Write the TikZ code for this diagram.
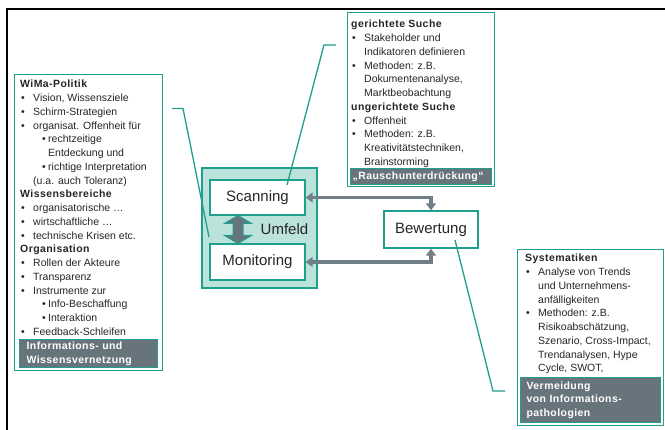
\documentclass[tikz,border=0pt]{standalone}
\usepackage{fontspec}
\setmainfont{Liberation Sans}[BoldFeatures={LetterSpace=4}]
\usetikzlibrary{positioning,arrows.meta}

\definecolor{wmTeal}{RGB}{30,160,140}
\definecolor{wmLight}{RGB}{188,226,220}
\definecolor{wmGray}{RGB}{104,116,124}
\definecolor{wmArrow}{RGB}{112,126,136}
\definecolor{wmText}{RGB}{38,38,38}

\newcommand{\bodyfont}{\fontsize{10.5}{13.75}\selectfont}
\newcommand{\blt}{•}
\newcommand{\itm}[1]{\hspace*{1pt}\makebox[12pt][l]{\blt}#1}
\newcommand{\subitm}[1]{\hspace*{22pt}\makebox[6pt][l]{\blt}#1}
\newcommand{\cnt}{\hspace*{13pt}}

\begin{document}
\begin{tikzpicture}[x=1pt, y=-1pt,
  tealbox/.style={draw=wmTeal, line width=1.4pt, fill=white, inner sep=0pt, anchor=north west},
  footbox/.style={draw=wmTeal, line width=1.3pt, fill=wmGray, text=white, anchor=north west, align=left, inner ysep=0pt, font=\bodyfont\bfseries},
  bodytext/.style={anchor=north west, inner sep=0pt, align=left, text=wmText, font=\bodyfont},
  procbox/.style={draw=wmTeal, line width=1.3pt, fill=white, inner sep=0pt, text=wmText, font=\fontsize{15}{18}\selectfont},
  callout/.style={draw=wmTeal, line width=1.3pt},
  flowarrow/.style={draw=wmArrow, line width=3.2pt, {Triangle[length=7pt,width=10pt]}-{Triangle[length=7pt,width=10pt]}}
]
\useasboundingbox (0,0) rectangle (665,430);
\draw[line width=2pt] (7,430) -- (7,9) -- (665,9);

% boxes
\node[tealbox, minimum width=148pt, minimum height=296pt] (wima) at (14,74) {};
\node[tealbox, minimum width=147pt, minimum height=174pt] (suche) at (347,12) {};
\node[tealbox, minimum width=146pt, minimum height=176pt] (system) at (517,249) {};

\node[draw=wmTeal, line width=1.3pt, fill=wmLight, minimum width=115pt, minimum height=120pt] (umfeld) at (259.5,228) {};
\node[procbox, minimum width=95pt, minimum height=35pt] (scan) at (257.5,197.5) {Scanning};
\node[procbox, minimum width=95pt, minimum height=36pt] (moni) at (257.5,262) {Monitoring};
\node[procbox, minimum width=94pt, minimum height=37pt] (bew) at (431,229.5) {Bewertung};
\node[text=wmText, font=\fontsize{15}{18}\selectfont, inner sep=0pt] (umfeldLabel) at (284.5,229) {Umfeld};

\coordinate (umArrow) at (238,229.5);
\filldraw[fill=wmGray, draw=wmTeal, line width=1pt] (umArrow) ++(0,-14) -- ++(13.5,8) -- ++(-8.5,0) -- ++(0,12) -- ++(8.5,0) -- ++(-13.5,8) -- ++(-13.5,-8) -- ++(8.5,0) -- ++(0,-12) -- ++(-8.5,0) -- cycle;

\draw[flowarrow] (scan.east) -| (bew.north);
\draw[flowarrow] (moni.east) -| (bew.south);

% callouts
\coordinate (wimaEnd) at (172,108.5);
\coordinate (wimaTip) at (209,237);
\coordinate (scanTip) at (287,185);
\coordinate (sucheEnd) at (336,45);
\coordinate (bewTip) at (455,240);
\coordinate (systemEnd) at (505,391);
\draw[callout] (wimaEnd) -- ++(11,0) -- (wimaTip);
\draw[callout] (scanTip) -- ++(37,-140) -- (sucheEnd);
\draw[callout] (bewTip) -- ++(38,151) -- (systemEnd);

% texts
\node[bodytext] (wimaText) at (20,80) {\textbf{WiMa-Politik}\\
\itm{Vision, Wissensziele}\\
\itm{Schirm-Strategien}\\
\itm{organisat. Offenheit für}\\
\subitm{rechtzeitige}\\
\hspace*{28pt}Entdeckung und\\
\subitm{richtige Interpretation}\\
\cnt(u.a. auch Toleranz)\\
\textbf{Wissensbereiche}\\
\itm{organisatorische …}\\
\itm{wirtschaftliche …}\\
\itm{technische Krisen etc.}\\
\textbf{Organisation}\\
\itm{Rollen der Akteure}\\
\itm{Transparenz}\\
\itm{Instrumente zur}\\
\subitm{Info-Beschaffung}\\
\subitm{Interaktion}\\
\itm{Feedback-Schleifen}};

\node[bodytext] (sucheText) at (351,20) {\textbf{gerichtete Suche}\\
\itm{Stakeholder und}\\
\cnt Indikatoren definieren\\
\itm{Methoden: z.B.}\\
\cnt Dokumentenanalyse,\\
\cnt Marktbeobachtung\\
\textbf{ungerichtete Suche}\\
\itm{Offenheit}\\
\itm{Methoden: z.B.}\\
\cnt Kreativitätstechniken,\\
\cnt Brainstorming};

\node[bodytext] (systemText) at (525,254) {\textbf{Systematiken}\\
\itm{Analyse von Trends}\\
\cnt und Unternehmens-\\
\cnt anfälligkeiten\\
\itm{Methoden: z.B.}\\
\cnt Risikoabschätzung,\\
\cnt Szenario, Cross-Impact,\\
\cnt Trendanalysen, Hype\\
\cnt Cycle, SWOT,};

% footers
\node[footbox, minimum width=138pt, minimum height=28pt, inner xsep=7pt, text width=124pt] (wimaFoot) at (19,339) {Informations- und\\Wissensvernetzung};
\node[footbox, minimum width=141pt, minimum height=16pt, inner xsep=2pt, text width=137pt] (sucheFoot) at (350,168) {„Rauschunterdrückung“};
\node[footbox, minimum width=140pt, minimum height=45pt, inner xsep=6pt, text width=128pt] (systemFoot) at (520,377) {Vermeidung\\von Informations-\\pathologien};
\end{tikzpicture}
\end{document}
